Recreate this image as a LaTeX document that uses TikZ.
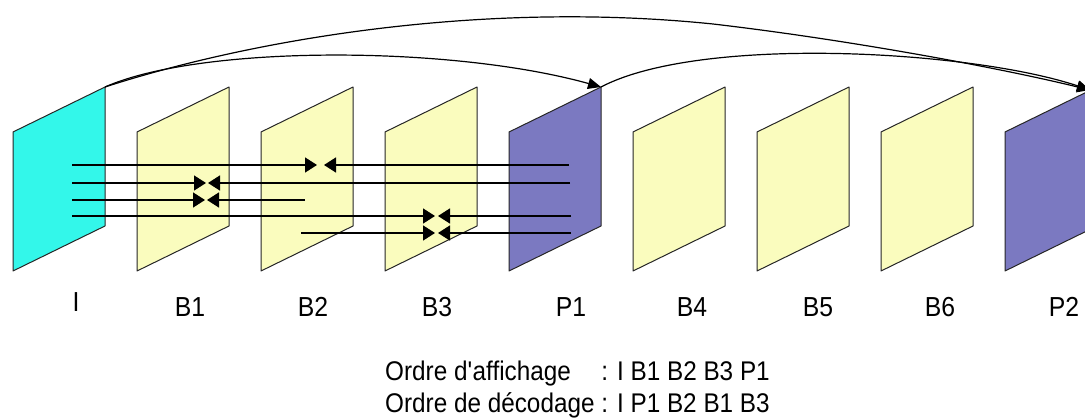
\documentclass[tikz,border=0pt]{standalone}
\usepackage{fontspec}
\setmainfont{Liberation Sans}[FakeStretch=0.9]
\usetikzlibrary{arrows.meta}
\definecolor{cyanF}{RGB}{51,247,234}
\definecolor{yelF}{RGB}{250,252,190}
\definecolor{purF}{RGB}{123,121,193}
\begin{document}
\begin{tikzpicture}[x=1pt,y=-1pt,
  frame/.style={draw=black!85,line width=1pt,line join=round},
  hline/.style={line width=1.4pt,-{Triangle[length=12pt,width=15pt]}},
  curv/.style={line width=1.2pt,-{Triangle[length=13pt,width=11pt]}},
  lab/.style={anchor=base,inner sep=0pt,font=\fontsize{27.5}{30}\selectfont},
  txt/.style={anchor=base west,inner sep=0pt,font=\fontsize{27}{30}\selectfont}]
\useasboundingbox (0,0) rectangle (1085,419);
\clip (0,0) rectangle (1085,419);
% frames
\foreach \n/\k/\c in {I/0/cyanF,B1/1/yelF,B2/2/yelF,B3/3/yelF,P1/4/purF,B4/5/yelF,B5/6/yelF,B6/7/yelF,P2/8/purF}{
  \pgfmathsetmacro\xl{13+124*\k}
  \pgfmathsetmacro\xr{105+124*\k}
  \coordinate (\n-tl) at (\xl,132);
  \coordinate (\n-bl) at (\xl,271);
  \coordinate (\n-tr) at (\xr,87);
  \coordinate (\n-br) at (\xr,226);
  \draw[frame,fill=\c] (\n-bl) -- (\n-tl) -- (\n-tr) -- (\n-br) -- cycle;
}
% labels
\node[lab] (lI) at (76,312) {I};
\node[lab] (lB1) at (190,317) {B1};
\node[lab] (lB2) at (313,317) {B2};
\node[lab] (lB3) at (437,317) {B3};
\node[lab] (lP1) at (571,317) {P1};
\node[lab] (lB4) at (692,317) {B4};
\node[lab] (lB5) at (818,317) {B5};
\node[lab] (lB6) at (940,317) {B6};
\node[lab] (lP2) at (1064,317) {P2};
% horizontal reference arrows
\coordinate (s1) at (72,165);  \coordinate (t1a) at (317,165);
\coordinate (r1) at (569,165); \coordinate (t1b) at (324,165);
\coordinate (s2) at (72,183);  \coordinate (t2a) at (206,183);
\coordinate (r2) at (570,183); \coordinate (t2b) at (208,183);
\coordinate (s3) at (72,200);  \coordinate (t3a) at (205,200);
\coordinate (r3) at (305,200); \coordinate (t3b) at (207,200);
\coordinate (s4) at (72,216);  \coordinate (t4a) at (435,216);
\coordinate (r4) at (571,216); \coordinate (t4b) at (438,216);
\coordinate (s5) at (301,233); \coordinate (t5a) at (435,233);
\coordinate (r5) at (571,233); \coordinate (t5b) at (438,233);
\draw[hline] (s1) -- (t1a);
\draw[hline] (r1) -- (t1b);
\draw[hline] (s2) -- (t2a);
\draw[hline] (r2) -- (t2b);
\draw[hline] (s3) -- (t3a);
\draw[hline] (r3) -- (t3b);
\draw[hline] (s4) -- (t4a);
\draw[hline] (r4) -- (t4b);
\draw[hline] (s5) -- (t5a);
\draw[hline] (r5) -- (t5b);
% top curves
\coordinate (P2-top) at (1090,90);
\coordinate (kink) at (713,24);
\draw[curv] (I-tr) .. controls (200,45) and (450,45) .. (P1-tr);
\draw[curv] (P1-tr) .. controls (700,35) and (970,50) .. (P2-top);
\draw[curv] (I-tr) .. controls (250,40) and (480,0) .. (kink)
   .. controls (850,40) and (1000,68) .. (P2-top);
% order text
\node[txt] (o1) at (385,381) {Ordre d\textquotesingle affichage};
\node[txt] (o1b) at (385,381) {\phantom{Ordre de décodage }: I B1 B2 B3 P1};
\node[txt] (o2) at (385,413) {Ordre de décodage : I P1 B2 B1 B3};
\end{tikzpicture}
\end{document}
